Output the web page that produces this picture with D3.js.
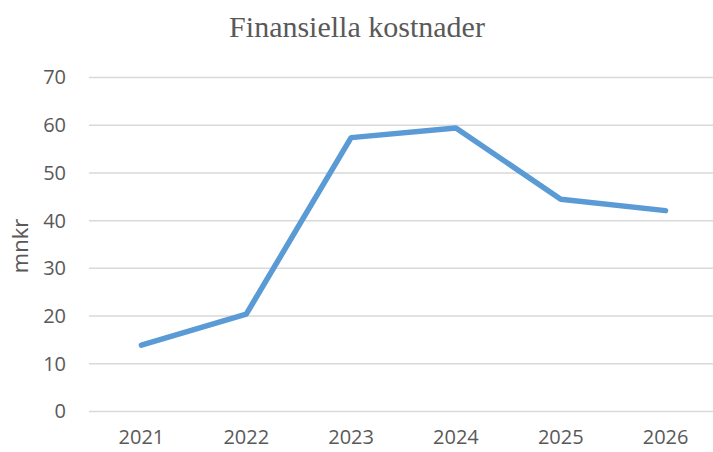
<!DOCTYPE html>
<html>
<head>
<meta charset="utf-8">
<script src="https://cdn.jsdelivr.net/npm/d3@7"></script>
<style>
  body { margin: 0; background: #fff; }
  text { fill: #595959; }
</style>
</head>
<body>
<svg id="chart" width="713" height="452"></svg>
<script>
var years = ["2021", "2022", "2023", "2024", "2025", "2026"];
var values = [13.9, 20.4, 57.4, 59.4, 44.5, 42.1];
var yTicks = [0, 10, 20, 30, 40, 50, 60, 70];

var svg = d3.select("#chart");
var margin = {top: 77.5, right: -5, bottom: 40.5, left: 89};
var width = 713 - margin.left - margin.right,
    height = 452 - margin.top - margin.bottom;

var g = svg.append("g").attr("transform", "translate(" + margin.left + "," + margin.top + ")");

var x = d3.scaleBand().domain(years).range([0, width]);
var y = d3.scaleLinear().domain([0, 70]).range([height, 0]);

// gridlines
g.selectAll(".grid")
  .data(yTicks)
  .enter().append("line")
    .attr("x1", 0)
    .attr("x2", width)
    .attr("y1", function(d) { return y(d); })
    .attr("y2", function(d) { return y(d); })
    .attr("stroke", "#d9d9d9")
    .attr("stroke-width", 1.5);

// y axis labels
var yAxis = g.append("g")
  .call(d3.axisLeft(y).tickValues(yTicks).tickSize(0).tickPadding(23));
yAxis.select(".domain").remove();
yAxis.selectAll("text")
  .style("font-family", "'Open Sans', sans-serif")
  .style("font-size", "20px")
  .attr("fill", "#595959");

// x axis labels
var xAxis = g.append("g")
  .attr("transform", "translate(0," + height + ")")
  .call(d3.axisBottom(x).tickSize(0).tickPadding(18));
xAxis.select(".domain").remove();
xAxis.selectAll("text")
  .style("font-family", "'Open Sans', sans-serif")
  .style("font-size", "20px")
  .attr("fill", "#595959");

var line = d3.line()
  .x(function(d, i) { return x(years[i]) + x.bandwidth() / 2; })
  .y(function(d) { return y(d); });

g.append("path")
  .datum(values)
  .attr("d", line)
  .attr("fill", "none")
  .attr("stroke", "#5b9bd5")
  .attr("stroke-width", 5.5)
  .attr("stroke-linejoin", "round")
  .attr("stroke-linecap", "round");

svg.append("text")
  .attr("x", 357)
  .attr("y", 37)
  .attr("text-anchor", "middle")
  .style("font-family", "'Liberation Serif', serif")
  .style("font-size", "30px")
  .text("Finansiella kostnader");

svg.append("text")
  .attr("transform", "translate(28,246) rotate(-90)")
  .attr("text-anchor", "middle")
  .style("font-family", "'Open Sans', sans-serif")
  .style("font-size", "22px")
  .text("mnkr");
</script>
</body>
</html>
